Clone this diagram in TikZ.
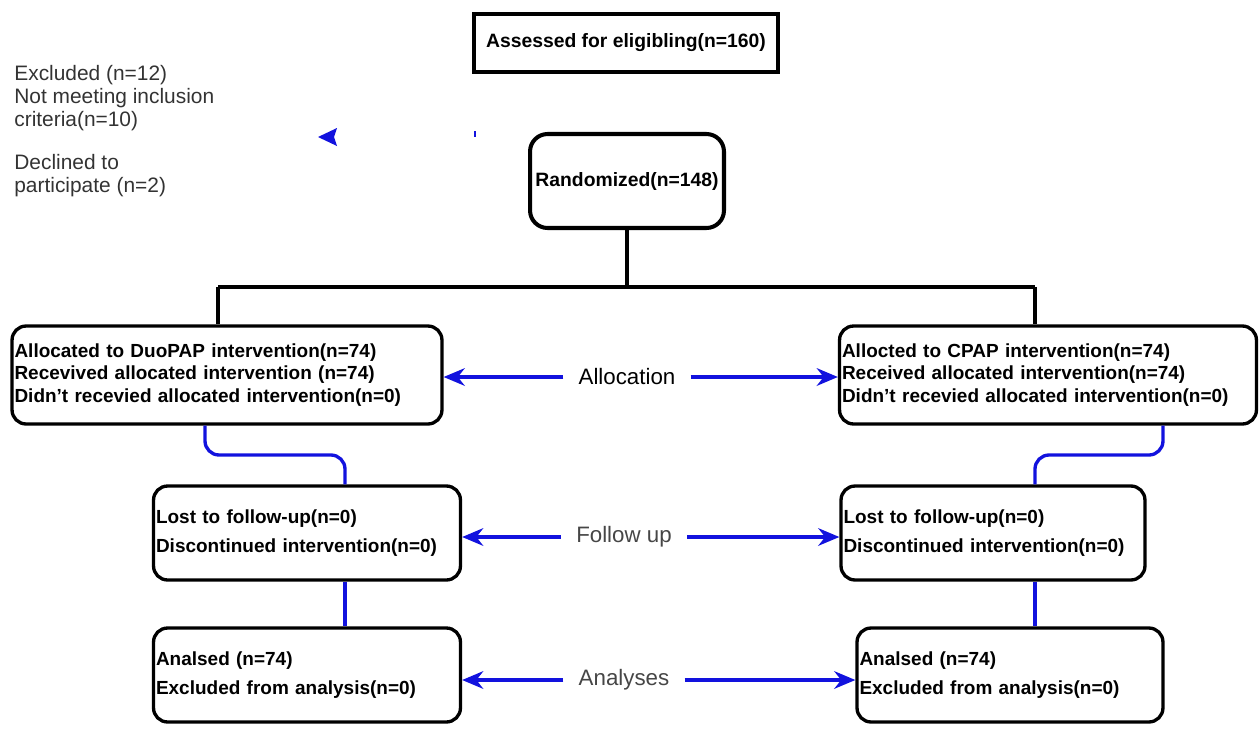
\documentclass[tikz,border=0pt]{standalone}
\usepackage{fontspec}
\setmainfont{Liberation Sans}
\usetikzlibrary{arrows.meta}
\definecolor{arrowblue}{RGB}{18,18,222}
\definecolor{labelgray}{RGB}{70,70,70}

\begin{document}
\begin{tikzpicture}[x=0.02cm,y=-0.02cm,>=Stealth]
  \tikzstyle{box}=[draw,line width=1.9pt,inner xsep=0.05cm,inner ysep=0pt,align=left,font=\bfseries\fontsize{10.8}{13}\selectfont]
  \tikzstyle{rbox}=[box,rounded corners=8pt]
  \tikzstyle{twoline}=[font=\bfseries\fontsize{10.8}{16.4}\selectfont,minimum height=1.88cm]
  \tikzstyle{stage}=[inner xsep=0.3cm,font=\fontsize{12.7}{14}\selectfont]
  \tikzstyle{tree}=[line width=2pt]
  \tikzstyle{bline}=[arrowblue,line width=1.9pt,rounded corners=8pt]
  \tikzstyle{barrow}=[arrowblue,line width=1.9pt,->,>={Stealth[length=12pt,width=10pt]}]
  \useasboundingbox (0,0) rectangle (1259,731);

  % enrolment
  \node[box,line width=2.2pt,align=center,minimum width=6.08cm,minimum height=1.16cm,font=\bfseries\fontsize{11}{13}\selectfont] (assess) at (626,43) {Assessed for eligibling(n=160)};
  \node[anchor=north west,inner sep=0pt,align=left,text=black!80,font=\fontsize{11.9}{13}\selectfont] (excl) at (14,65)
    {Excluded (n=12)\\Not meeting inclusion\\criteria(n=10)\\[11.5pt]Declined to\\participate (n=2)};
  \fill[arrowblue] (318,137) -- (337,128) -- (334,137) -- (337,146) -- cycle;
  \draw[arrowblue,line width=0.6pt] (475,131) -- (475,137);
  \node[rbox,align=center,line width=2.3pt,rounded corners=10pt,minimum width=3.88cm,minimum height=1.88cm,font=\bfseries\fontsize{11}{13}\selectfont] (rand) at (627,181) {Randomized(n=148)};

  % allocation
  \node[rbox,text width=8.5cm,minimum height=1.96cm] (duo) at (227,375)
    {Allocated to DuoPAP intervention(n=74)\\Recevived allocated intervention (n=74)\\Didn't recevied allocated intervention(n=0)};
  \node[rbox,text width=8.24cm,minimum height=1.96cm] (cpap) at (1048,375)
    {Allocted to CPAP intervention(n=74)\\Received allocated intervention(n=74)\\Didn't recevied allocated intervention(n=0)};

  % follow up and analysis
  \node[rbox,twoline,text width=6.04cm] (duofu) at (307,533) {Lost to follow-up(n=0)\\Discontinued intervention(n=0)};
  \node[rbox,twoline,text width=5.98cm] (cpapfu) at (993,533) {Lost to follow-up(n=0)\\Discontinued intervention(n=0)};
  \node[rbox,twoline,text width=6.04cm] (duoan) at (307,675) {Analsed (n=74)\\Excluded from analysis(n=0)};
  \node[rbox,twoline,text width=6.02cm] (cpapan) at (1010,675) {Analsed (n=74)\\Excluded from analysis(n=0)};

  % stage labels
  \node[stage] (alloc) at (627,377) {Allocation};
  \node[stage,text=labelgray] (fol) at (624,537) {Follow up};
  \node[stage,text=labelgray] (ana) at (624,680) {Analyses};

  % connectors
  \coordinate (split) at (627,287);
  \coordinate (tl) at (218,287);
  \coordinate (tr) at (1035,287);
  \draw[tree] (rand) -- (split);
  \draw[tree] (tl) -- (tr);
  \draw[tree] (tl) -- (tl |- duo.north);
  \draw[tree] (tr) -- (tr |- cpap.north);

  \coordinate (k1) at (205,455);
  \coordinate (k2) at (345,455);
  \coordinate (k3) at (1163,455);
  \coordinate (k4) at (1035,455);
  \draw[bline] (duo.south -| k1) -- (k1) -- (k2) -- (k2 |- duofu.north);
  \draw[bline] (cpap.south -| k3) -- (k3) -- (k4) -- (k4 |- cpapfu.north);
  \draw[bline] (duofu.south -| k2) -- (duoan.north -| k2);
  \draw[bline] (cpapfu.south -| k4) -- (cpapan.north -| k4);

  \foreach \l/\a/\b in {alloc/duo/cpap,fol/duofu/cpapfu,ana/duoan/cpapan}{
    \draw[barrow] (\l.west) -- (\a.east |- \l.west);
    \draw[barrow] (\l.east) -- (\b.west |- \l.east);
  }
\end{tikzpicture}
\end{document}
